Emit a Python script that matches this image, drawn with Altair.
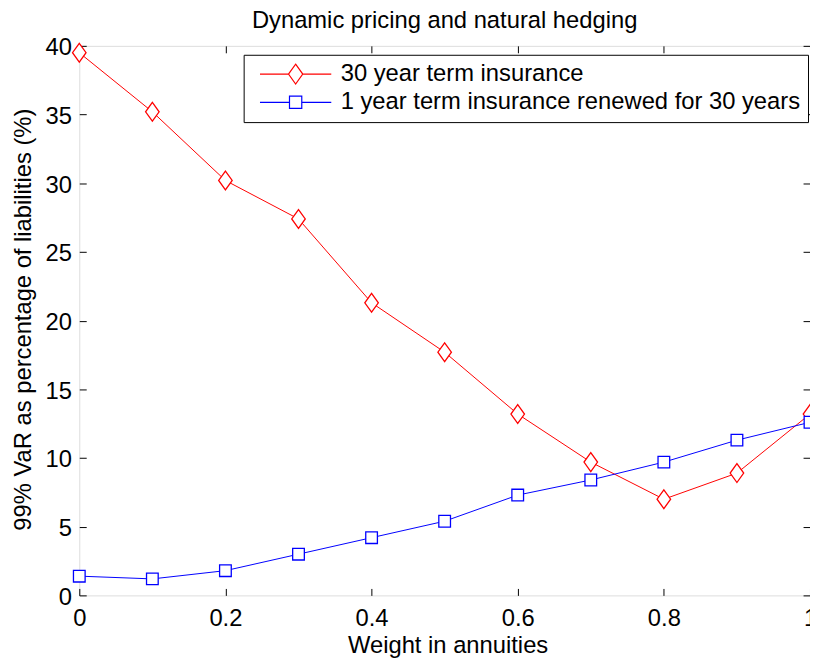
import altair as alt
import pandas as pd

# ---- data ----
weights = [0.0, 0.1, 0.2, 0.3, 0.4, 0.5, 0.6, 0.7, 0.8, 0.9, 1.0]
term30 = [39.5, 35.2, 30.2, 27.4, 21.3, 17.7, 13.2, 9.7, 7.0, 8.9, 13.2]
term1 = [1.4, 1.2, 1.8, 3.0, 4.2, 5.4, 7.3, 8.4, 9.7, 11.3, 12.6]
series_names = ["30 year term insurance", "1 year term insurance renewed for 30 years"]
x_ticks = [0, 0.2, 0.4, 0.6, 0.8, 1.0]
y_ticks = [0, 5, 10, 15, 20, 25, 30, 35, 40]

colors = ["#ff0000", "#0000ff"]
FONT = "Liberation Sans"

df = pd.DataFrame({
    "weight": weights + weights,
    "var": term30 + term1,
    "series": [series_names[0]] * len(weights) + [series_names[1]] * len(weights),
})

DIAMOND = "M0,-1L0.72,0L0,1L-0.72,0Z"
SQUARE = "M-0.62,-0.62L0.62,-0.62L0.62,0.62L-0.62,0.62Z"
LEG_D = "M-3.6,0L-0.72,0M0.72,0L3.6,0M0,-1L0.72,0L0,1L-0.72,0Z"
LEG_S = "M-3.6,0L-0.62,0M0.62,0L3.6,0M-0.62,-0.62L0.62,-0.62L0.62,0.62L-0.62,0.62Z"

xscale = alt.Scale(domain=[0, 1], nice=False, zero=False)
yscale = alt.Scale(domain=[0, 40], nice=False, zero=False)
cscale = alt.Scale(domain=series_names, range=colors)

common_axis = dict(offset=-7, tickSize=7, domain=False, grid=False,
                   tickColor="black", tickWidth=1, labelColor="black",
                   labelFont=FONT, titleFont=FONT, titleColor="black",
                   titleFontWeight="normal", labelFlush=False)

x_bottom = alt.Axis(orient="bottom", values=x_ticks, format="~g", labelFontSize=24,
                    labelPadding=11, title="Weight in annuities", titleFontSize=24,
                    titleX=372, titleY=65, titleBaseline="alphabetic", **common_axis)
y_left = alt.Axis(orient="left", values=y_ticks, labelFontSize=24, labelPadding=8,
                  labelOffset=2,
                  title="99% VaR as percentage of liabilities (%)", titleFontSize=24,
                  titleX=-56, titleY=276, titleBaseline="alphabetic", titleAngle=270,
                  **common_axis)
x_top = alt.Axis(orient="top", values=x_ticks, labels=False, title=None, **common_axis)
y_right = alt.Axis(orient="right", values=y_ticks, labels=False, title=None, **common_axis)

base = alt.Chart(df)

lines = base.mark_line(strokeWidth=1).encode(
    x=alt.X("weight:Q", scale=xscale, axis=x_bottom),
    y=alt.Y("var:Q", scale=yscale, axis=y_left),
    color=alt.Color("series:N", scale=cscale, legend=None),
    detail="series:N",
)

points = base.mark_point(filled=False, fill="white", fillOpacity=1, opacity=1,
                         strokeWidth=1.3, size=361).encode(
    x=alt.X("weight:Q", scale=xscale, axis=x_top),
    y=alt.Y("var:Q", scale=yscale, axis=y_right),
    color=alt.Color("series:N", scale=cscale, legend=None),
    shape=alt.Shape("series:N", scale=alt.Scale(domain=series_names, range=[DIAMOND, SQUARE]),
                    legend=None),
)

legend = alt.Legend(orient="none", legendX=166, legendY=9, title=None,
                    strokeColor="black", fillColor="white", padding=7.5,
                    symbolSize=400, symbolStrokeWidth=1.2, symbolOpacity=1,
                    symbolOffset=33, labelOffset=33.5, labelFont=FONT, labelFontSize=24,
                    labelColor="black", rowPadding=3.5, labelLimit=0)

legend_layer = base.mark_point(filled=False, opacity=0, strokeWidth=1.2).encode(
    x=alt.X("weight:Q", scale=xscale, axis=None),
    y=alt.Y("var:Q", scale=yscale, axis=None),
    color=alt.Color("series:N", scale=cscale, legend=legend),
    shape=alt.Shape("series:N", scale=alt.Scale(domain=series_names, range=[LEG_D, LEG_S]),
                    legend=legend),
)

chart = alt.layer(legend_layer, lines, points).resolve_scale(
    color="independent", shape="independent"
).resolve_axis(
    x="independent", y="independent"
).properties(
    width=738,
    height=555,
    title=alt.TitleParams("Dynamic pricing and natural hedging", font=FONT, fontSize=24,
                          fontWeight="normal", color="black", anchor="middle",
                          frame="group", offset=-16, baseline="alphabetic"),
    autosize=alt.AutoSizeParams(type="none"),
    padding={"left": 72, "top": 35, "right": 0, "bottom": 60},
).configure_view(stroke="black", strokeWidth=1).configure(background="white")

chart.save("out.html", embed_options={"renderer": "svg", "actions": False})
